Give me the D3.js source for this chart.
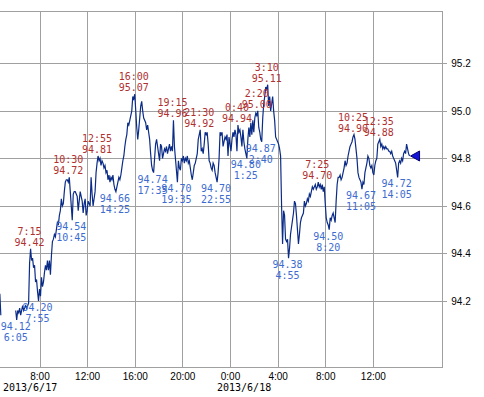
<!DOCTYPE html>
<html>
<head>
<meta charset="utf-8">
<script src="https://cdn.jsdelivr.net/npm/d3@7/dist/d3.min.js"></script>
<style>
  body { margin: 0; background: #fff; }
  svg { display: block; font-family: "DejaVu Sans Mono", monospace; font-size: 10px; }
  .grid line { stroke: #a0a0a0; stroke-width: 1; shape-rendering: crispEdges; }
  .axis text { fill: #000; }
  .hi { fill: #b03030; }
  .lo { fill: #3d6cd0; }
</style>
</head>
<body>
<div id="chart"></div>
<script>
// 5 minute closes
var earlyStart = "2013/06/17 04:20";
var earlyPrices = [94.22, 94.21, 94.23, 94.22, 94.23, 94.14];

var day1Start = "2013/06/17 06:00";
var day1Prices = [
    94.16, 94.12, 94.16, 94.15, 94.17, 94.14, 94.16, 94.18, 94.16, 94.17, 94.18, 94.17, // 6
    94.18, 94.19, 94.36, 94.42, 94.37, 94.38, 94.34, 94.35, 94.28, 94.29, 94.24, 94.20, // 7
    94.25, 94.22, 94.30, 94.26, 94.28, 94.32, 94.35, 94.33, 94.37, 94.33, 94.37, 94.31, // 8
    94.39, 94.45, 94.46, 94.48, 94.47, 94.50, 94.53, 94.52, 94.56, 94.58, 94.63, 94.60, // 9
    94.61, 94.66, 94.70, 94.71, 94.71, 94.70, 94.72, 94.66, 94.60, 94.54, 94.65, 94.66, // 10
    94.66, 94.65, 94.64, 94.58, 94.62, 94.66, 94.64, 94.62, 94.57, 94.61, 94.63, 94.56, // 11
    94.58, 94.62, 94.61, 94.60, 94.72, 94.65, 94.60, 94.63, 94.66, 94.74, 94.78, 94.81, // 12
    94.79, 94.80, 94.77, 94.79, 94.78, 94.76, 94.77, 94.74, 94.75, 94.71, 94.73, 94.70, // 13
    94.72, 94.71, 94.73, 94.69, 94.67, 94.66, 94.68, 94.70, 94.72, 94.71, 94.73, 94.76, // 14
    94.79, 94.81, 94.85, 94.88, 94.90, 94.95, 94.94, 94.96, 94.98, 95.00, 95.06, 95.05, // 15
    95.07, 95.00, 94.93, 94.88, 94.92, 94.97, 95.02, 95.04, 95.00, 94.97, 94.96, 94.95, // 16
    94.92, 94.94, 94.91, 94.88, 94.82, 94.77, 94.75, 94.74, 94.80, 94.86, 94.88, 94.85, // 17
    94.82, 94.79, 94.86, 94.85, 94.80, 94.82, 94.84, 94.83, 94.85, 94.82, 94.84, 94.86, // 18
    94.83, 94.85, 94.83, 94.96, 94.85, 94.80, 94.75, 94.70, 94.79, 94.76, 94.75, 94.80, // 19
    94.79, 94.81, 94.78, 94.80, 94.79, 94.81, 94.78, 94.79, 94.76, 94.73, 94.71, 94.74, // 20
    94.77, 94.78, 94.80, 94.82, 94.88, 94.90, 94.92, 94.83, 94.84, 94.82, 94.86, 94.91, // 21
    94.90, 94.91, 94.86, 94.79, 94.78, 94.76, 94.75, 94.78, 94.77, 94.74, 94.72, 94.70, // 22
    94.74, 94.80, 94.91, 94.90, 94.91, 94.85, 94.87, 94.89, 94.88, 94.90, 94.81, 94.89  // 23
];

var day2Start = "2013/06/18 00:00";
var day2Prices = [
    94.86, 94.83, 94.88, 94.91, 94.89, 94.92, 94.90, 94.83, 94.94, 94.91, 94.92, 94.89, // 0
    94.85, 94.92, 94.87, 94.84, 94.82, 94.80, 94.88, 94.93, 94.89, 94.95, 94.90, 94.96, // 1
    94.91, 94.97, 94.99, 94.98, 95.00, 94.93, 94.91, 94.88, 94.87, 94.97, 95.03, 95.06, // 2
    95.10, 95.09, 95.11, 95.02, 95.06, 95.00, 95.03, 95.06, 95.00, 94.96, 94.89, 94.88, // 3
    94.87, 94.86, 94.84, 94.81, 94.60, 94.44, 94.58, 94.56, 94.46, 94.45, 94.46, 94.38, // 4
    94.42, 94.48, 94.51, 94.54, 94.57, 94.62, 94.61, 94.56, 94.50, 94.44, 94.48, 94.53, // 5
    94.55, 94.56, 94.57, 94.62, 94.60, 94.61, 94.63, 94.62, 94.65, 94.64, 94.66, 94.68, // 6
    94.67, 94.68, 94.69, 94.67, 94.68, 94.70, 94.68, 94.69, 94.67, 94.69, 94.66, 94.68, // 7
    94.61, 94.55, 94.53, 94.52, 94.50, 94.55, 94.54, 94.56, 94.57, 94.55, 94.53, 94.62, // 8
    94.69, 94.72, 94.72, 94.73, 94.71, 94.72, 94.74, 94.76, 94.79, 94.77, 94.78, 94.81, // 9
    94.83, 94.85, 94.86, 94.87, 94.89, 94.90, 94.88, 94.84, 94.80, 94.74, 94.72, 94.71, // 10
    94.70, 94.67, 94.70, 94.69, 94.74, 94.76, 94.78, 94.81, 94.80, 94.77, 94.76, 94.77, // 11
    94.74, 94.73, 94.77, 94.79, 94.80, 94.86, 94.87, 94.88, 94.85, 94.86, 94.84, 94.85, // 12
    94.84, 94.85, 94.84, 94.84, 94.83, 94.83, 94.82, 94.83, 94.81, 94.80, 94.79, 94.78, // 13
    94.75, 94.72, 94.78, 94.79, 94.78, 94.80, 94.79, 94.82, 94.83, 94.82, 94.86, 94.84, // 14
    94.82, 94.81                                                                        // 15
];

// annotated highs (red, above) and lows (blue, below)
var highTimes = ["2013/06/17 07:15", "2013/06/17 10:30", "2013/06/17 12:55", "2013/06/17 16:00",
                 "2013/06/17 19:15", "2013/06/17 21:30", "2013/06/18 00:40", "2013/06/18 02:20",
                 "2013/06/18 03:10", "2013/06/18 07:25", "2013/06/18 10:25", "2013/06/18 12:35"];
var highValues = [94.42, 94.72, 94.81, 95.07, 94.96, 94.92, 94.94, 95.00, 95.11, 94.70, 94.90, 94.88];

var lowTimes = ["2013/06/17 06:05", "2013/06/17 07:55", "2013/06/17 10:45", "2013/06/17 14:25",
                "2013/06/17 17:35", "2013/06/17 19:35", "2013/06/17 22:55", "2013/06/18 01:25",
                "2013/06/18 02:40", "2013/06/18 04:55", "2013/06/18 08:20", "2013/06/18 11:05",
                "2013/06/18 14:05"];
var lowValues = [94.12, 94.20, 94.54, 94.66, 94.74, 94.70, 94.70, 94.80, 94.87, 94.38, 94.50, 94.67, 94.72];

var xTicks = ["2013/06/17 08:00", "2013/06/17 12:00", "2013/06/17 16:00", "2013/06/17 20:00",
              "2013/06/18 00:00", "2013/06/18 04:00", "2013/06/18 08:00", "2013/06/18 12:00"];
var dateLabels = ["2013/6/17", "2013/6/18"];
var dateStarts = ["2013/06/17 00:00", "2013/06/18 00:00"];
var yTicks = [94.2, 94.4, 94.6, 94.8, 95.0, 95.2];

var parseTime = d3.timeParse("%Y/%m/%d %H:%M"),
    timeFmt = d3.timeFormat("%-H:%M"),
    priceFmt = d3.format(".2f");

var width = 484, height = 397;
var plot = {left: -8.1, top: 11.5, right: 442.3, bottom: 367.5};

var svg = d3.select("#chart").append("svg")
    .attr("width", width)
    .attr("height", height);

var x = d3.scaleTime()
    .domain([parseTime("2013/06/17 04:00"), parseTime("2013/06/18 17:50")])
    .range([plot.left, plot.right]);

var y = d3.scaleLinear()
    .domain([93.92, 95.418])
    .range([plot.bottom, plot.top]);

function toPoints(start, prices) {
    var t0 = parseTime(start);
    return prices.map(function(v, i) {
        return {t: d3.timeMinute.offset(t0, i * 5), v: v};
    });
}

var series = toPoints(earlyStart, earlyPrices)
    .concat([null])
    .concat(toPoints(day1Start, day1Prices))
    .concat(toPoints(day2Start, day2Prices));

// horizontal grid
svg.append("g")
    .attr("class", "grid")
    .attr("transform", "translate(" + plot.right + ",0)")
    .call(d3.axisLeft(y).tickValues(yTicks).tickSize(plot.right - plot.left).tickFormat(""))
    .call(function(g) { g.select(".domain").remove(); });

// x axis with vertical grid
svg.append("g")
    .attr("class", "grid axis")
    .attr("transform", "translate(0," + plot.bottom + ")")
    .call(d3.axisBottom(x)
        .tickValues(xTicks.map(parseTime))
        .tickSizeInner(-(plot.bottom - plot.top))
        .tickSizeOuter(0)
        .tickPadding(5)
        .tickFormat(timeFmt))
    .call(function(g) { g.select(".domain").remove(); });

// y axis on the right
svg.append("g")
    .attr("class", "grid axis")
    .attr("transform", "translate(" + plot.right + ",0)")
    .call(d3.axisRight(y)
        .tickValues(yTicks)
        .tickSizeInner(5)
        .tickSizeOuter(0)
        .tickPadding(4)
        .tickFormat(d3.format(".1f")))
    .call(function(g) { g.select(".domain").remove(); });

// frame
svg.append("rect")
    .attr("x", plot.left)
    .attr("y", plot.top)
    .attr("width", plot.right - plot.left)
    .attr("height", plot.bottom - plot.top)
    .style("fill", "none")
    .style("stroke", "#a0a0a0")
    .style("shape-rendering", "crispEdges");

// date labels, lined up with the 0:00 label, kept inside the page
svg.append("g").selectAll("text")
    .data(dateLabels)
    .enter().append("text")
    .attr("x", function(d, i) { return Math.max(3, x(parseTime(dateStarts[i])) - 13); })
    .attr("y", 391)
    .text(function(d) { return d; });

svg.append("defs").append("clipPath")
    .attr("id", "clip")
    .append("rect")
    .attr("x", plot.left).attr("y", plot.top)
    .attr("width", plot.right - plot.left).attr("height", plot.bottom - plot.top);

var line = d3.line()
    .defined(function(d) { return d !== null; })
    .x(function(d) { return x(d.t); })
    .y(function(d) { return y(d.v); });

svg.append("path")
    .datum(series)
    .attr("clip-path", "url(#clip)")
    .attr("d", line)
    .style("fill", "none")
    .style("stroke", "#0b2c86")
    .style("stroke-width", 1.2);

// last price marker
var last = series[series.length - 1];
var lx = x(last.t), ly = y(last.v);
svg.append("path")
    .attr("d", "M" + (lx + 1) + "," + ly + "L" + (lx + 10) + "," + (ly - 5) + "L" + (lx + 10) + "," + (ly + 5) + "Z")
    .style("fill", "#1414d8")
    .style("stroke", "#000070");

// high annotations
var hi = svg.append("g").selectAll("g")
    .data(highTimes)
    .enter().append("g")
    .attr("class", "hi")
    .attr("text-anchor", "middle");
hi.append("text")
    .attr("x", function(d) { return x(parseTime(d)) - 1; })
    .attr("y", function(d, i) { return y(highValues[i]) - 14; })
    .text(function(d) { return timeFmt(parseTime(d)); });
hi.append("text")
    .attr("x", function(d) { return x(parseTime(d)) - 1; })
    .attr("y", function(d, i) { return y(highValues[i]) - 3; })
    .text(function(d, i) { return priceFmt(highValues[i]); });

// low annotations
var lo = svg.append("g").selectAll("g")
    .data(lowTimes)
    .enter().append("g")
    .attr("class", "lo")
    .attr("text-anchor", "middle");
lo.append("text")
    .attr("x", function(d) { return x(parseTime(d)) - 1; })
    .attr("y", function(d, i) { return y(lowValues[i]) + 10; })
    .text(function(d, i) { return priceFmt(lowValues[i]); });
lo.append("text")
    .attr("x", function(d) { return x(parseTime(d)) - 1; })
    .attr("y", function(d, i) { return y(lowValues[i]) + 21; })
    .text(function(d) { return timeFmt(parseTime(d)); });
</script>
</body>
</html>
